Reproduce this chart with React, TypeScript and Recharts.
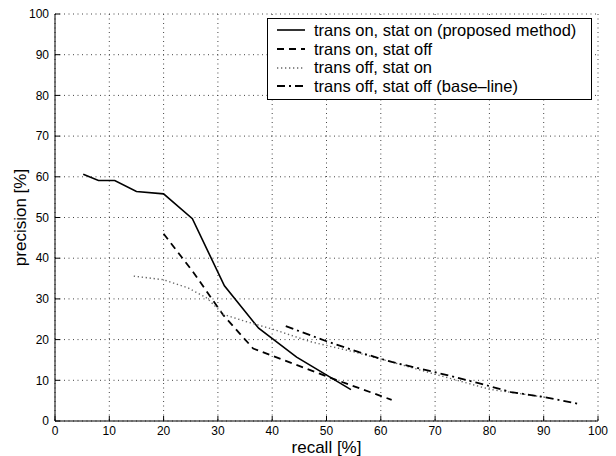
import React from 'react';
import { LineChart, Line, XAxis, YAxis, CartesianGrid, Legend } from 'recharts';

// recall / precision readings for each run
const recallTsOn = [5.2, 8, 11, 15, 20, 25.3, 31.2, 37.5, 44.5, 54.5];
const precisionTsOn = [60.6, 59.1, 59.1, 56.4, 55.8, 49.7, 33.2, 22.8, 15.7, 7.7];

const recallTransOnly = [20, 25.5, 31, 36.5, 44, 52, 62];
const precisionTransOnly = [46, 36.5, 26, 17.8, 14, 10, 5.2];

const recallStatOnly = [14.5, 20, 24.5, 28, 31, 35, 40, 47, 55, 62, 70, 80, 91.5];
const precisionStatOnly = [35.6, 34.7, 32.7, 30.2, 26.2, 24.5, 22.6, 19.5, 17, 14.5, 11.5, 7.8, 5.6];

const recallBaseline = [42.5, 50, 56, 62, 70, 78, 84, 90, 96.5];
const precisionBaseline = [23.3, 19.6, 16.9, 14.5, 12, 9.3, 7.1, 5.9, 4.2];

const axisTicks = [0, 10, 20, 30, 40, 50, 60, 70, 80, 90, 100];

const toPoints = (xs: number[], ys: number[]) => xs.map((x, i) => ({ recall: x, precision: ys[i] }));

const series = [
  { name: 'trans on, stat on (proposed method)', data: toPoints(recallTsOn, precisionTsOn), stroke: '#000', dash: undefined, width: 1.6 },
  { name: 'trans on, stat off', data: toPoints(recallTransOnly, precisionTransOnly), stroke: '#000', dash: '7 5', width: 1.8 },
  { name: 'trans off, stat on', data: toPoints(recallStatOnly, precisionStatOnly), stroke: '#666', dash: '1.3 2.7', width: 1.4 },
  { name: 'trans off, stat off (base\u2013line)', data: toPoints(recallBaseline, precisionBaseline), stroke: '#000', dash: '8 4 2 4', width: 1.8 },
];

const LegendBox = () => (
  <div
    style={{
      border: '1.5px solid #000',
      background: '#fff',
      padding: '2px 0 3px 8px',
      width: 325,
      boxSizing: 'border-box',
    }}
  >
    {series.map(s => (
      <div key={s.name} style={{ display: 'flex', alignItems: 'center', height: 18.7 }}>
        <svg width={30} height={10} style={{ marginRight: 8 }}>
          <line x1={1} y1={5} x2={29} y2={5} stroke={s.stroke} strokeWidth={s.width} strokeDasharray={s.dash} />
        </svg>
        <span style={{ fontSize: 16.5, color: '#000', whiteSpace: 'nowrap' }}>{s.name}</span>
      </div>
    ))}
  </div>
);

export default function App() {
  const font = '"Liberation Sans", Arial, Helvetica, sans-serif';
  return (
    <div style={{ position: 'absolute', left: 0, top: 0, width: 616, height: 456, background: '#fff', fontFamily: font }}>
      <LineChart width={616} height={456} margin={{ top: 14, right: 18, left: 5, bottom: 5 }}>
        <CartesianGrid stroke="#444" strokeDasharray="1 3.5" horizontalValues={axisTicks} verticalValues={axisTicks} />
        <XAxis
          type="number"
          dataKey="recall"
          domain={[0, 100]}
          ticks={axisTicks}
          height={30}
          tickSize={-5}
          tickMargin={10}
          stroke="#000"
          tick={{ fill: '#000', fontSize: 12, fontFamily: font }}
          label={{ value: 'recall [%]', position: 'insideBottom', offset: -2, fill: '#000', fontSize: 17, fontFamily: font }}
          allowDataOverflow
        />
        <YAxis
          type="number"
          domain={[0, 100]}
          ticks={axisTicks}
          width={50}
          tickSize={-5}
          tickMargin={11}
          stroke="#000"
          tick={{ fill: '#000', fontSize: 12, fontFamily: font }}
          label={{ value: 'precision [%]', angle: -90, position: 'insideLeft', offset: 0, dx: 15, fill: '#000', fontSize: 17, fontFamily: font, style: { textAnchor: 'middle' } }}
        />
        {series.map(s => (
          <Line
            key={s.name}
            data={s.data}
            dataKey="precision"
            name={s.name}
            type="linear"
            stroke={s.stroke}
            strokeWidth={s.width}
            strokeDasharray={s.dash}
            dot={false}
            activeDot={false}
            isAnimationActive={false}
          />
        ))}
        <Legend
          layout="vertical"
          align="center"
          verticalAlign="middle"
          content={<LegendBox />}
          wrapperStyle={{ left: 267, top: 18, width: 'auto' }}
        />
      </LineChart>
    </div>
  );
}
